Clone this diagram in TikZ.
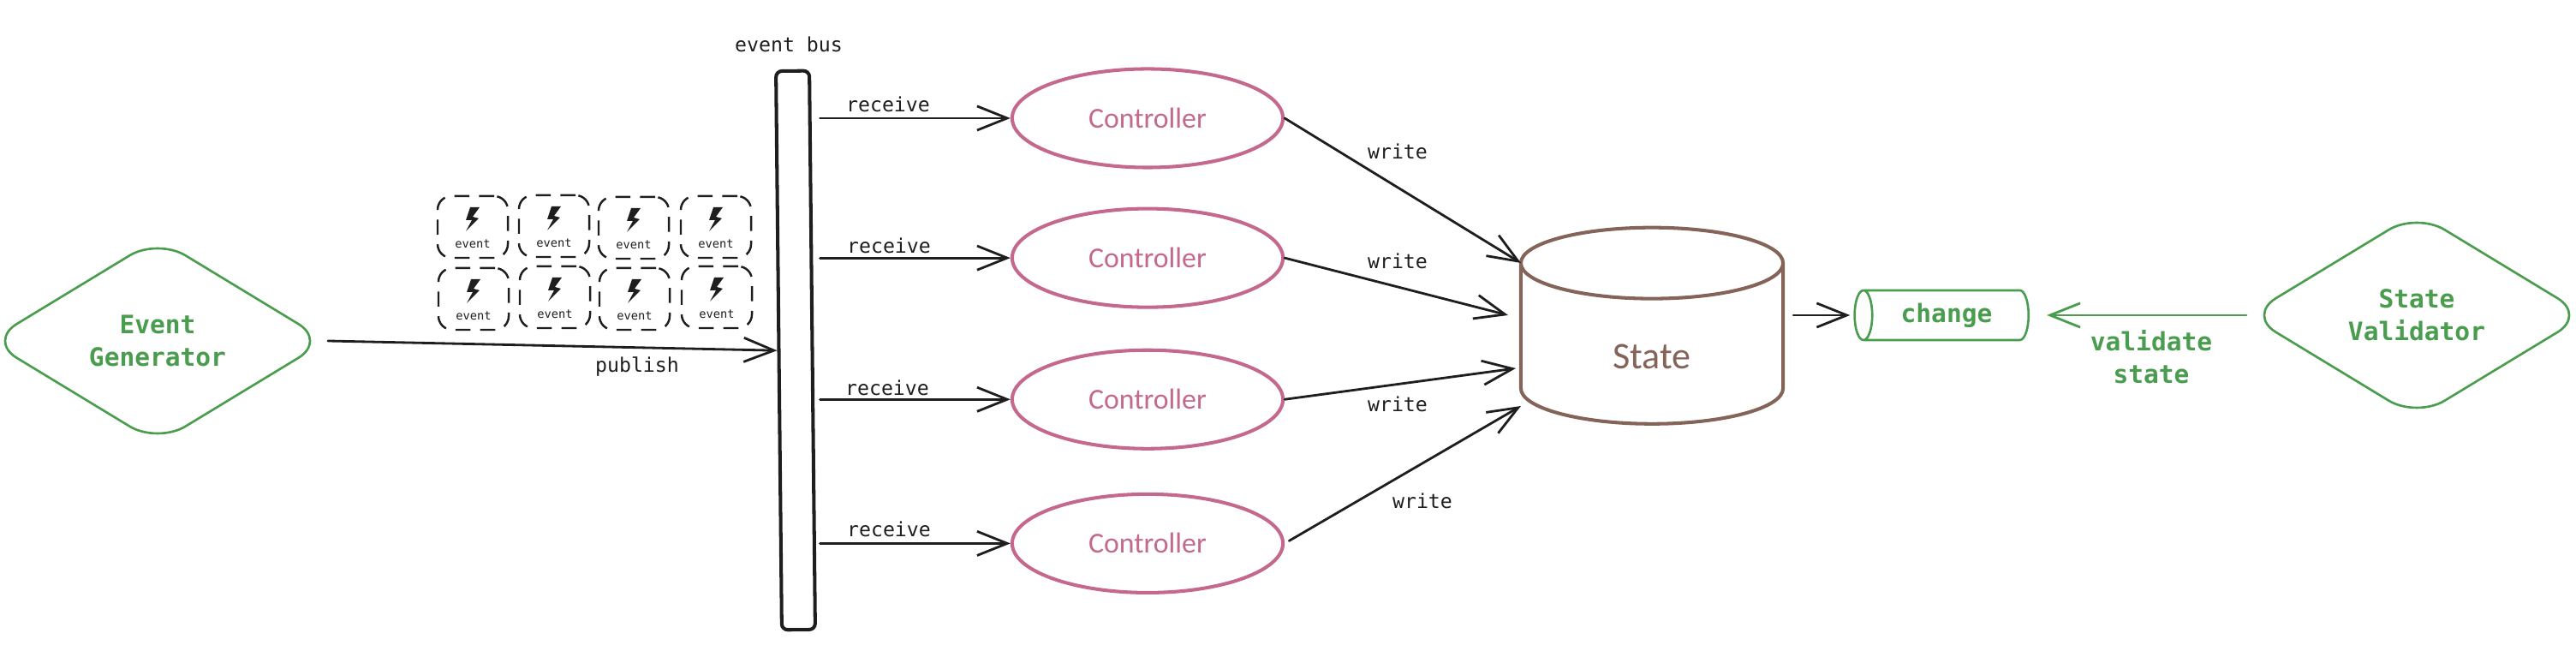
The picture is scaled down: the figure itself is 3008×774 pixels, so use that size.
\documentclass[tikz,border=0pt]{standalone}
\usepackage{fontspec}
\setmainfont{Carlito}
\setmonofont{DejaVu Sans Mono}
\usetikzlibrary{arrows.meta,positioning,shapes.geometric}
\definecolor{inkblack}{HTML}{1E1E1E}
\definecolor{sketchgreen}{HTML}{4A9C4E}
\definecolor{sketchpink}{HTML}{C4688D}
\definecolor{sketchbrown}{HTML}{846358}

\begin{document}
\begin{tikzpicture}[
    x=0.01cm, y=-0.01cm,
    decision/.style={diamond, draw=sketchgreen, line width=0.75pt, rounded corners=0.38cm, inner sep=0pt, minimum width=3.95cm, minimum height=2.4cm, align=center, text=sketchgreen, font=\ttfamily\bfseries\fontsize{8.4}{10.8}\selectfont},
    controller/.style={ellipse, draw=sketchpink, line width=1.15pt, inner sep=0pt, minimum width=3.16cm, minimum height=1.15cm, text=sketchpink, font=\fontsize{9.6}{11}\selectfont},
    busbar/.style={draw=inkblack, line width=1.15pt, rounded corners=0.07cm, minimum width=0.39cm, minimum height=6.52cm, rotate=0.6},
    eventbox/.style={draw=inkblack, line width=0.7pt, dashed, dash pattern=on 5pt off 3.2pt, rounded corners=0.16cm, minimum width=0.82cm, minimum height=0.72cm},
    eventtext/.style={text=inkblack, inner sep=0pt, font=\ttfamily\fontsize{3.9}{4.5}\selectfont},
    edgelabel/.style={text=inkblack, inner sep=0pt, font=\ttfamily\fontsize{6.6}{8}\selectfont},
    greenlabel/.style={text=sketchgreen, inner sep=0pt, align=center, font=\ttfamily\bfseries\fontsize{8.4}{10.8}\selectfont},
    flow/.style={-{Straight Barb[length=10pt,width=8pt]}, draw=inkblack, line width=0.8pt, line cap=round},
    greenflow/.style={flow, draw=sketchgreen}
]
\useasboundingbox (0,0) rectangle (3008,774);

\node[decision] (generator) at (184,398) {Event\\Generator};
\node[decision] (validator) at (2822,368) {State\\Validator};
\node[busbar] (bus) at (929,409) {};
\node[edgelabel] (busname) at (921,52) {event bus};

\node[controller] (ctrlA) at (1340,138) {Controller};
\node[controller, below=0.44cm of ctrlA] (ctrlB) {Controller};
\node[controller, below=0.46cm of ctrlB] (ctrlC) {Controller};
\node[controller, below=0.49cm of ctrlC] (ctrlD) {Controller};

\node[cylinder, shape border rotate=90, aspect=0.91, draw=sketchbrown, line width=1.15pt, inner sep=0pt, minimum width=3.06cm, minimum height=2.29cm, text height=0.58cm, text=sketchbrown, font=\fontsize{12.5}{14}\selectfont] (state) at (1929,402) {State};
\node[cylinder, shape border rotate=180, aspect=0.72, draw=sketchgreen, line width=0.75pt, inner sep=0pt, minimum width=0.58cm, minimum height=2.03cm, text=sketchgreen, font=\ttfamily\bfseries\fontsize{8.4}{10.8}\selectfont] (change) at (2273,368) {change};

% event tiles
\foreach \name/\tx/\ty in {a/552/265, b/647/264, c/740/266, d/836/265, e/553/349, f/648/347, g/741/349, h/837/347} {
    \node[eventbox] (tile\name) at (\tx,\ty) {};
    \node[eventtext] (text\name) at ([yshift=-0.2cm]tile\name.center) {event};
    \fill[inkblack, shift={(\tx,\ty-9)}] (8,-14) -- (-3,-14) -- (-8,1) -- (-1,1) -- (-8,14) -- (7,-1) -- (0,-3) -- cycle;
}

% bus to controllers
\draw[flow, shorten <=0.07cm] (bus.east |- ctrlA.west) -- (ctrlA.west);
\draw[flow, shorten <=0.07cm] (bus.east |- ctrlB.west) -- (ctrlB.west);
\draw[flow, shorten <=0.07cm] (bus.east |- ctrlC.west) -- (ctrlC.west);
\draw[flow, shorten <=0.07cm] (bus.east |- ctrlD.west) -- (ctrlD.west);
\node[edgelabel] (recvA) at (1037,122) {receive};
\node[edgelabel] (recvB) at (1038,287) {receive};
\node[edgelabel] (recvC) at (1036,453) {receive};
\node[edgelabel] (recvD) at (1038,618) {receive};

% controllers to state
\coordinate (inA) at (1776,307);
\coordinate (inB) at (1761,368);
\coordinate (inC) at (1770,430);
\coordinate (inD) at (1776,474);
\draw[flow] (ctrlA.east) -- (inA);
\draw[flow] (ctrlB.east) -- (inB);
\draw[flow] (ctrlC.east) -- (inC);
\draw[flow, shorten <=0.06cm] (ctrlD.east) -- (inD);
\node[edgelabel] (writeA) at (1632,177) {write};
\node[edgelabel] (writeB) at (1632,305) {write};
\node[edgelabel] (writeC) at (1632,472) {write};
\node[edgelabel] (writeD) at (1661,585) {write};

\draw[flow] (generator.east) -- (bus.west);
\node[edgelabel] (publish) at (744,428) {publish};

\draw[flow, shorten <=0.1cm, shorten >=0.04cm] (state.east |- change.west) -- (change.west);
\draw[greenflow, shorten >=0.2cm] (validator.west) -- (change.east);
\node[greenlabel] (validate) at (2512,417) {validate\\state};
\end{tikzpicture}
\end{document}
